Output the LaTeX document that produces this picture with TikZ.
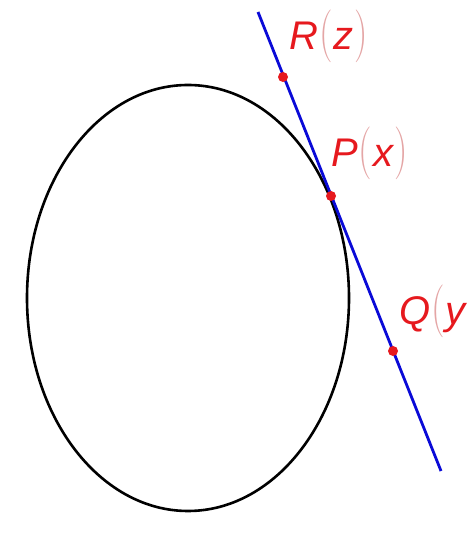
\documentclass[tikz,border=0pt]{standalone}
\usepackage{fontspec}
\usepackage{graphicx}
\usepackage{tikz}
\newfontfamily\lblfont{Liberation Sans}
\definecolor{ptred}{RGB}{230,25,30}
\definecolor{tanblue}{RGB}{10,10,215}
\definecolor{brapink}{RGB}{228,165,165}
\newcommand{\lbl}[1]{{\lblfont\itshape\fontsize{40}{44}\selectfont#1}}
\newcommand{\bra}[1]{{\color{brapink}\fontsize{40}{44}\selectfont\kern1pt\scalebox{0.95}[1.32]{#1}\kern1pt}}

\begin{document}
\begin{tikzpicture}[
  x=1pt, y=1pt,
  dot/.style={circle, fill=ptred, inner sep=0pt, minimum size=10pt},
  lab/.style={anchor=base west, inner sep=0pt, text=ptred},
  tangent/.style={tanblue, line width=2.8pt}
]
\useasboundingbox (0,0) rectangle (472,535);
\draw[line width=2.6pt] (188,237) ellipse [x radius=161, y radius=213];

\coordinate (top) at (258,523);
\coordinate (bot) at (441,64);
\draw[tangent] (top) -- (bot);

\node[dot] (R) at (283,458) {};
\node[dot] (P) at (331,339) {};
\node[dot] (Q) at (393,184) {};

\node[lab] (Rlbl) at (289,485) {\lbl{R}\bra{(}\lbl{z}\bra{)}};
\node[lab] (Plbl) at (331,368) {\lbl{P}\bra{(}\lbl{x}\bra{)}};
\node[lab] (Qlbl) at (399,210) {\lbl{Q}\bra{(}\lbl{y}};
\end{tikzpicture}
\end{document}
